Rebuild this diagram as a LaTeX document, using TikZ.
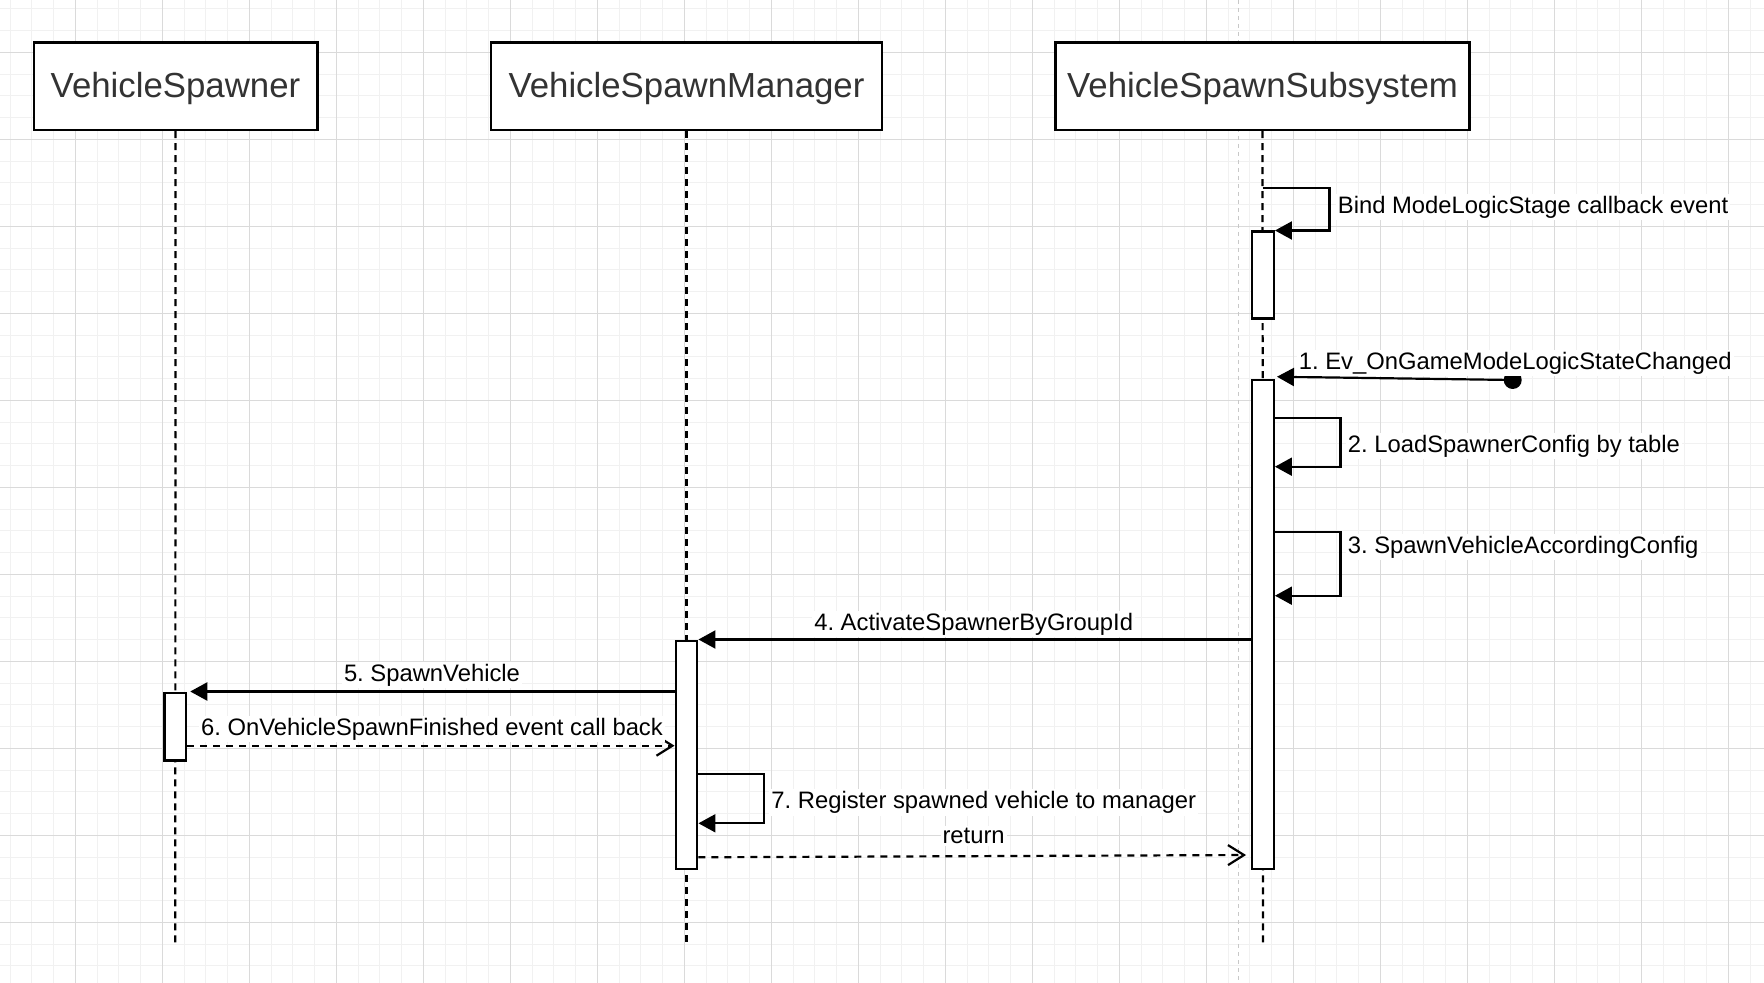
\documentclass[tikz,border=0pt]{standalone}
\usepackage{fontspec}
\setmainfont{Liberation Sans}
\usetikzlibrary{arrows.meta,calc}
\definecolor{gridminor}{HTML}{F1F1F1}
\definecolor{gridmajor}{HTML}{DADADA}
\definecolor{pagebreak}{HTML}{C8C8C8}
\definecolor{titletext}{HTML}{333333}
\tikzset{
  lifebox/.style={draw=black, line width=1.2pt, fill=white, font=\fontsize{17.4}{20}\selectfont, text=titletext, minimum height=43.85pt, inner sep=0pt, text height=12.7pt, text depth=1.4pt},
  actbox/.style={draw=black, line width=1.2pt, fill=white, minimum width=10.75pt, inner sep=0pt},
  lifeline/.style={line width=1.1pt, dash pattern=on 3.5pt off 2.5pt},
  msg/.style={line width=1.1pt, -{Triangle[length=8.5pt,width=9pt]}},
  retmsg/.style={line width=1.1pt, dash pattern=on 3.5pt off 3pt, -{Straight Barb[length=8pt,width=10pt]}},
  lbl/.style={font=\fontsize{11.9}{14}\selectfont, fill=white, inner sep=1pt},
}
\frenchspacing
\begin{document}
\begin{tikzpicture}[x=0.5pt,y=-0.5pt]
\useasboundingbox (0,0) rectangle (1764,983);
\fill[white] (0,0) rectangle (1764,983);
% grid
\foreach \i in {0,...,80} \draw[gridminor, line width=0.5pt] ({10.05+21.75*\i},0) -- ++(0,983);
\foreach \i in {0,...,44} \draw[gridminor, line width=0.5pt] (0,{8.8+21.75*\i}) -- ++(1764,0);
\foreach \i in {0,...,19} \draw[gridmajor, line width=0.5pt] ({75.3+87*\i},0) -- ++(0,983);
\foreach \i in {0,...,10} \draw[gridmajor, line width=0.5pt] (0,{52.3+87*\i}) -- ++(1764,0);
\draw[pagebreak, line width=0.5pt, dash pattern=on 2pt off 2pt] (1238.5,0) -- (1238.5,983);

% participants
\node[lifebox, minimum width=141.8pt] (vs) at (175.5,86.2) {VehicleSpawner};
\node[lifebox, minimum width=195.75pt] (vsm) at (686.5,86.2) {VehicleSpawnManager};
\node[lifebox, minimum width=207pt] (vss) at (1262.5,86.2) {VehicleSpawnSubsystem};

% lifelines
\coordinate (vsEnd) at (175.3,945);
\coordinate (vsmEnd) at (686.5,945);
\coordinate (vssEnd) at (1263,945);
\draw[lifeline] (vs.south) -- (vsEnd);
\draw[lifeline] (vsm.south) -- (vsmEnd);
\draw[lifeline] (vss.south) -- (vssEnd);

% activations
\node[actbox, minimum height=43.5pt] (s1) at (1263,275.2) {};
\node[actbox, minimum height=244.5pt] (s2) at (1263,624.5) {};
\node[actbox, minimum height=114pt] (m1) at (686.5,754.7) {};
\node[actbox, minimum height=33.8pt] (v1) at (175.3,726.5) {};

% Bind self message
\coordinate (bindstart) at (vss.south |- 0,188.3);
\draw[msg] (bindstart) -| ($(s1.north east)+(54.6,0)$) -- (s1.north east);

% 1
\node[circle, fill=black, inner sep=0pt, minimum size=9pt] (dot) at (1512.7,380) {};
\draw[msg, shorten >=1pt] (dot.center) -- (s2.east |- 0,376.7);

% 2, 3
\draw[msg] (s2.east |- 0,417.7) -- ++(65.5,0) |- (s2.east |- 0,466.7);
\draw[msg] (s2.east |- 0,532.3) -- ++(65.5,0) |- (s2.east |- 0,595.7);

% 4
\draw[msg] (s2.west |- m1.north) -- (m1.north east);
% 5
\draw[msg, shorten >=1.5pt] (m1.west |- v1.north) -- (v1.north east);
% 6
\draw[retmsg] (v1.east |- 0,745.7) -- (m1.west |- 0,745.7);
% 7
\draw[msg] (m1.east |- 0,774) -- ++(65.4,0) |- (m1.east |- 0,823.3);
% return
\draw[retmsg, shorten >=2.5pt] (m1.east |- 0,857.3) -- (s2.west |- 0,855);

% labels
\node[lbl, anchor=base west] (lbind) at (1335.5,213.5) {Bind ModeLogicStage callback event};
\node[lbl, anchor=base west] (l1) at (1296.5,369.5) {1. Ev\_OnGameModeLogicStateChanged};
\node[lbl, anchor=base west] (l2) at (1345.5,452) {2. LoadSpawnerConfig by table};
\node[lbl, anchor=base west] (l3) at (1345.5,553.5) {3. SpawnVehicleAccordingConfig};
\node[lbl, anchor=base] (l4) at (973.7,630) {4. ActivateSpawnerByGroupId};
\node[lbl, anchor=base] (l5) at (432,681.5) {5. SpawnVehicle};
\node[lbl, anchor=base] (l6) at (432,735) {6. OnVehicleSpawnFinished event call back};
\node[lbl, anchor=base west] (l7) at (769,808.7) {7. Register spawned vehicle to manager};
\node[lbl, anchor=base] (lret) at (973.6,843.7) {return};
\end{tikzpicture}
\end{document}
